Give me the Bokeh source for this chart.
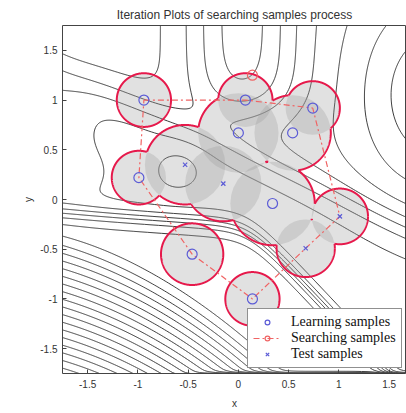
import numpy as np
from bokeh.plotting import figure
from bokeh.models import Legend, LegendItem, FixedTicker, Range1d
from bokeh.embed import file_html
from bokeh.resources import INLINE

# ---------------- data ----------------
learn_x = [-0.94, 0.07, 0.74, 0.00, 0.54, -0.99, 0.34, -0.46, 0.14]
learn_y = [1.00, 1.00, 0.92, 0.67, 0.67, 0.22, -0.04, -0.55, -1.00]
learn_r = [0.27, 0.27, 0.27, 0.40, 0.38, 0.27, 0.42, 0.31, 0.27]

test_x = [-0.53, -0.15, 1.01, 0.67]
test_y = [0.35, 0.16, -0.17, -0.49]
test_r = [0.40, 0.38, 0.28, 0.29]

search_x = [0.14]
search_y = [1.25]

path_x = [-0.94, 0.07, 0.74, 1.01, 0.67, 0.14, -0.46, -0.99, -0.94]
path_y = [1.00, 1.00, 0.92, -0.17, -0.49, -1.00, -0.55, 0.22, 1.00]

tick_values = [-1.5, -1.0, -0.5, 0.0, 0.5, 1.0, 1.5]
tick_labels = ["-1.5", "-1", "-0.5", "0", "0.5", "1", "1.5"]

# background response surface, pieced together from the contour picture
base_level = -4.0
step = dict(levels=4.0, y0=0.50, slope=-0.46, w=0.12)          # upper band
valley = dict(levels=-4.0, x0=0.04, sx=0.40, yc=0.92, w=0.15)   # basin at top centre
# bumps: x, y, sx, sy, amplitude
bump_x = [1.95, -1.95, -1.80, -0.60]
bump_y = [1.05, 0.85, 0.25, 0.30]
bump_sx = [0.55, 0.33, 0.40, 0.18]
bump_sy = [0.75, 0.40, 0.22, 0.16]
bump_amp = [3.4, 1.3, 0.8, -1.0]
upper_cliff = dict(levels=6.0, y0=-0.17, tilt=-0.07, bend_x=0.10, drop=1.0, mid=0.17, w=0.06)
lower_cliff = dict(gain=13.0, y0=-0.35, lin=0.30, quad=0.15)
wall_levels = 3.0

# ---------------- surface ----------------
gx = np.linspace(-1.75, 1.75, 351)
gy = np.linspace(-1.75, 1.75, 351)
X, Y = np.meshgrid(gx, gy)


def softplus(m, s):
    return s * np.logaddexp(0, m / s)


def sigmoid(t):
    return 1.0 / (1.0 + np.exp(-t))


Z = np.full_like(X, base_level)
Z = Z + step["levels"] * sigmoid((Y - (step["y0"] + step["slope"] * X)) / step["w"])
Z = Z + valley["levels"] * np.exp(-((X - valley["x0"]) ** 2) / (2 * valley["sx"] ** 2)) \
    * sigmoid((Y - valley["yc"]) / valley["w"])
for bx, by, sx, sy, am in zip(bump_x, bump_y, bump_sx, bump_sy, bump_amp):
    Z = Z + am * np.exp(-((X - bx) ** 2) / (2 * sx ** 2) - ((Y - by) ** 2) / (2 * sy ** 2))
uc = upper_cliff
y1 = uc["y0"] + uc["tilt"] * (X - uc["bend_x"]) - uc["drop"] * (
    softplus(X - uc["bend_x"], 0.12) - softplus(np.zeros_like(X), 0.12))
Z = Z + uc["levels"] * sigmoid(((y1 - Y) - uc["mid"]) / uc["w"])
lc = lower_cliff
U = X + 1.75
y2 = lc["y0"] - lc["lin"] * U - lc["quad"] * U ** 2
Z = Z + lc["gain"] * softplus(y2 - Y, 0.05)
Z = Z + wall_levels * np.exp((-1.75 - Y) / 0.012) * sigmoid((X + 0.3) / 0.1)
levels = np.arange(-12.5, 40.0, 1.0)

# ---------------- figure ----------------
p = figure(width=406, height=413, output_backend="svg", toolbar_location=None,
           x_range=Range1d(-1.75, 1.673), y_range=Range1d(-1.75, 1.75),
           min_border_left=62, min_border_right=0, min_border_top=25, min_border_bottom=40)
p.background_fill_color = "white"
p.border_fill_color = "white"
p.outline_line_color = "#444444"
p.grid.visible = False

p.title.text = "Iteration Plots of searching samples process"
p.title.align = "center"
p.title.text_font = "Liberation Sans"
p.title.text_font_size = "12px"
p.title.text_font_style = "normal"
p.title.text_color = "#333333"
p.title.standoff = 8

bottom_axis = p.below[0]
left_axis = p.left[0]
for ax, lab in ((bottom_axis, "x"), (left_axis, "y")):
    ax.ticker = FixedTicker(ticks=tick_values)
    ax.major_label_overrides = {v: t for v, t in zip(tick_values, tick_labels)}
    ax.axis_label = lab
    ax.axis_label_text_font = "Liberation Sans"
    ax.axis_label_text_font_size = "10px"
    ax.axis_label_text_font_style = "normal"
    ax.axis_label_text_color = "#333333"
    ax.major_label_text_font = "Liberation Sans"
    ax.major_label_text_font_size = "10px"
    ax.major_label_text_color = "#333333"
    ax.major_tick_in = 4
    ax.major_tick_out = 0
    ax.minor_tick_line_color = None
    ax.axis_line_color = None
    ax.major_tick_line_color = "#444444"
bottom_axis.major_label_standoff = 6
bottom_axis.axis_label_standoff = 7
left_axis.major_label_standoff = 5
left_axis.axis_label_standoff = 3

# contours
p.contour(gx, gy, Z, levels, line_color="#3a3a3a", line_width=1, fill_color=None)

# discs
cx = learn_x + test_x
cy = learn_y + test_y
cr = learn_r + test_r
p.ellipse(x=cx, y=cy, width=[2 * r for r in cr], height=[2 * r for r in cr],
          fill_color="#9a9a9a", fill_alpha=0.30, line_color=None)

# union outline of discs
th = np.linspace(0, 2 * np.pi, 721)
xs, ys = [], []
for i in range(len(cx)):
    px = cx[i] + cr[i] * np.cos(th)
    py = cy[i] + cr[i] * np.sin(th)
    keep = np.ones_like(th, dtype=bool)
    for j in range(len(cx)):
        if j != i:
            keep &= (px - cx[j]) ** 2 + (py - cy[j]) ** 2 > cr[j] ** 2
    seg_x, seg_y = [], []
    for k in range(len(th)):
        if keep[k]:
            seg_x.append(px[k]); seg_y.append(py[k])
        elif seg_x:
            xs.append(seg_x); ys.append(seg_y); seg_x, seg_y = [], []
    if seg_x:
        xs.append(seg_x); ys.append(seg_y)
p.multi_line(xs, ys, line_color="#e6194b", line_width=2)

# search path and samples
path = p.line(path_x, path_y, line_color="#f06464", line_width=1.2, line_dash="6 3 2 3")
srch = p.scatter(search_x, search_y, marker="circle", size=10, fill_color=None,
                 line_color="#f06464", line_width=1.2)
learn = p.scatter(learn_x, learn_y, marker="circle", size=10, fill_color=None,
                  line_color="#5b5bd6", line_width=1.2)
test = p.scatter(test_x, test_y, marker="x", size=6, line_color="#5b5bd6", line_width=1.2)

legend = Legend(items=[LegendItem(label="Learning samples", renderers=[learn]),
                       LegendItem(label="Searching samples", renderers=[path, srch]),
                       LegendItem(label="Test samples", renderers=[test])],
                location=(185, 5), orientation="vertical",
                label_text_font="Liberation Serif", label_text_font_size="14px",
                label_text_color="#111111", label_height=12, glyph_height=12, glyph_width=28,
                label_standoff=10, spacing=0, padding=5, margin=0,
                border_line_color="#222222", border_line_width=1,
                background_fill_color="white", background_fill_alpha=1.0)
p.add_layout(legend, "center")

open("out.html", "w").write(file_html(p, INLINE))
